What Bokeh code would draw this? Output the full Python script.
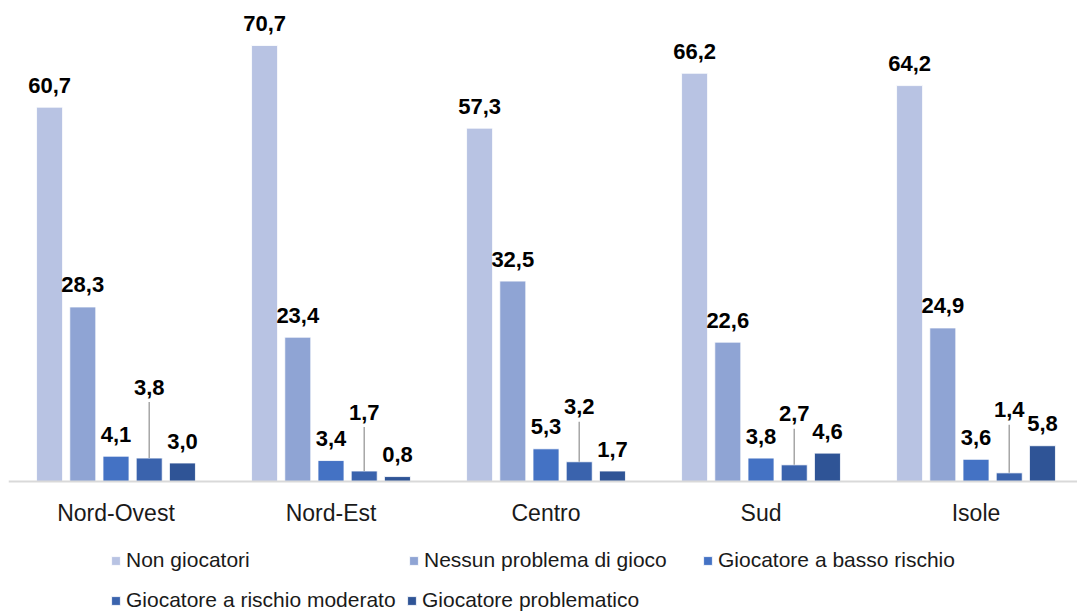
from bokeh.plotting import figure
from bokeh.models import FixedTicker, Legend, LegendItem, Range1d
from bokeh.core.properties import value
from bokeh.embed import file_html
from bokeh.resources import INLINE

# Regions and gambling-behaviour shares (%)
regions = ["Nord-Ovest", "Nord-Est", "Centro", "Sud", "Isole"]
series_names = [
    "Non giocatori",
    "Nessun problema di gioco",
    "Giocatore a basso rischio",
    "Giocatore a rischio moderato",
    "Giocatore problematico",
]
non_giocatori = [60.7, 70.7, 57.3, 66.2, 64.2]
nessun_problema = [28.3, 23.4, 32.5, 22.6, 24.9]
basso_rischio = [4.1, 3.4, 5.3, 3.8, 3.6]
rischio_moderato = [3.8, 1.7, 3.2, 2.7, 1.4]
problematico = [3.0, 0.8, 1.7, 4.6, 5.8]

series_values = [non_giocatori, nessun_problema, basso_rischio, rischio_moderato, problematico]
colors = ["#B8C3E3", "#8FA4D4", "#4472C4", "#3A63AD", "#2F5496"]

# Layout constants: the frame fills the page, the area under zero holds
# the category labels and the legend.
W, H = 1077, 611
BASELINE_PX = 481
Y_MAX = 78.0
PX_PER_UNIT = BASELINE_PX / Y_MAX
Y_MIN = -(H - BASELINE_PX) / PX_PER_UNIT
BAR_W = 0.121
STEP = 0.1545
LABEL_FONT = "Liberation Sans"
# lift (px) of the "rischio moderato" labels, drawn with a leader line
moderate_label_lift = [71, 59, 55, 51, 63]

centers = [i + 0.5 for i in range(len(regions))]

p = figure(
    width=W, height=H,
    x_range=Range1d(0, 4.972), y_range=Range1d(Y_MIN, Y_MAX),
    output_backend="svg", toolbar_location=None,
    y_axis_location=None,
    min_border_left=8, min_border_right=0, min_border_top=0, min_border_bottom=0,
)
p.outline_line_color = None
p.xgrid.visible = False
p.ygrid.visible = False
p.background_fill_color = "white"
p.border_fill_color = "white"

renderers = []
for k, (vals, col) in enumerate(zip(series_values, colors)):
    xs = [c + (k - 2) * STEP for c in centers]
    r = p.vbar(x=xs, top=vals, width=BAR_W, bottom=0,
               fill_color=col, line_color="white", line_width=0.8)
    renderers.append(r)

    labels = [f"{v:.1f}".replace(".", ",") for v in vals]
    if k == 3:
        # leader lines from the bar top up to the raised label
        tops = [v + (lift - 15) / PX_PER_UNIT for v, lift in zip(vals, moderate_label_lift)]
        p.segment(x0=xs, y0=vals, x1=xs, y1=tops, line_color="#A6A6A6", line_width=1.5)
        ys = [v + lift / PX_PER_UNIT for v, lift in zip(vals, moderate_label_lift)]
    else:
        ys = [v + 22 / PX_PER_UNIT for v in vals]
    p.text(x=xs, y=ys, text=labels, text_align="center", text_baseline="middle",
           text_font=value(LABEL_FONT), text_font_style="bold",
           text_font_size="22px", text_color="#000000")

# Category axis, pinned at zero
ax = p.xaxis[0]
ax.fixed_location = 0
ax.ticker = FixedTicker(ticks=centers)
ax.major_label_overrides = {c: name for c, name in zip(centers, regions)}
ax.axis_line_color = "#D9D9D9"
ax.axis_line_width = 2
ax.major_tick_line_color = None
ax.minor_tick_line_color = None
ax.major_label_standoff = 12
ax.major_label_text_font = LABEL_FONT
ax.major_label_text_font_size = "23px"
ax.major_label_text_color = "#1A1A1A"

# Legend: two rows, items placed like the spreadsheet legend
legend_pos = [(102, 39), (400, 39), (694, 39), (102, -1), (398, -1)]
for name, r, loc in zip(series_names, renderers, legend_pos):
    lg = Legend(
        items=[LegendItem(label=name, renderers=[r])],
        location=loc,
        orientation="horizontal",
        glyph_width=11, glyph_height=11,
        label_standoff=5,
        padding=0, margin=0, spacing=0,
        border_line_color=None,
        background_fill_alpha=0,
        label_text_font=LABEL_FONT,
        label_text_font_size="21px",
        label_text_color="#1A1A1A",
    )
    p.add_layout(lg, "center")

open("out.html", "w").write(file_html(p, INLINE))
